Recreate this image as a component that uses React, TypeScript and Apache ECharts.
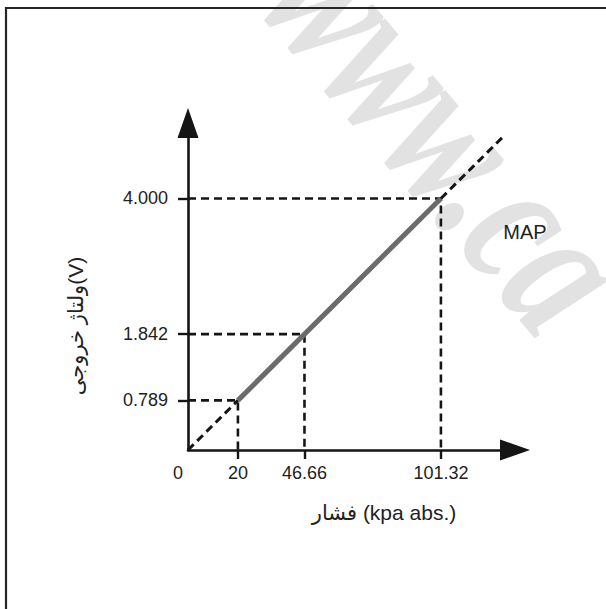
import React, { useEffect, useRef } from "react";
import * as echarts from "echarts";

// Points: pressure (kPa abs.) vs output voltage (V)
const pressureKpa = [20, 46.66, 101.32];
const voltageV = [0.789, 1.842, 4.0];
// dashed extension of the characteristic beyond the last point
const extensionEnd = [126.7, 5.0];
const xTickValues = [0, 20, 46.66, 101.32];
const yTickValues = [0.789, 1.842, 4.0];

const xTitle = "فشار (kpa abs.)";
const yTitle = "ولتاژ خروجی(V)";
const seriesName = "MAP";
const watermark = "www.ca";

const FONT = "'Liberation Sans', Arial, 'DejaVu Sans', sans-serif";
const INK = "#151515";

export default function App() {
  const ref = useRef<HTMLDivElement>(null);
  useEffect(() => {
    if (!ref.current) return;
    const chart = echarts.init(ref.current, undefined, { renderer: "svg" });

    const guideSeries = pressureKpa.map((p, i) => ({
      type: "line",
      silent: true,
      symbol: "none",
      z: 3,
      lineStyle: { color: INK, width: 2.6, type: [8, 5] },
      data: [
        [0, voltageV[i]],
        [p, voltageV[i]],
        [p, 0],
      ],
    }));

    const labelStyle = { color: "#222", fontSize: 18, fontFamily: FONT };

    const option: any = {
      animation: false,
      backgroundColor: "#ffffff",
      textStyle: { fontFamily: FONT },
      grid: { left: 188, top: 123, width: 327, height: 327, containLabel: false },
      xAxis: {
        type: "value",
        min: 0,
        max: 131,
        splitLine: { show: false },
        axisLine: {
          show: true,
          onZero: false,
          lineStyle: { color: INK, width: 2.6 },
          symbol: ["none", "triangle"],
          symbolSize: [21, 30],
        },
        axisTick: {
          show: true,
          customValues: xTickValues.slice(1),
          length: 9,
          lineStyle: { color: INK, width: 2.4 },
        },
        axisLabel: {
          show: true,
          customValues: xTickValues,
          margin: 14,
          ...labelStyle,
          formatter: (v: number) => (v === 0 ? "{o|0}" : String(v)),
          rich: { o: { padding: [0, 20, 0, 0], ...labelStyle } },
        },
      },
      yAxis: {
        type: "value",
        min: 0,
        max: 5.2,
        splitLine: { show: false },
        axisLine: {
          show: true,
          onZero: false,
          lineStyle: { color: INK, width: 2.6 },
          symbol: ["none", "triangle"],
          symbolSize: [21, 30],
        },
        axisTick: {
          show: true,
          customValues: yTickValues,
          length: 10,
          lineStyle: { color: INK, width: 2.4 },
        },
        axisLabel: {
          show: true,
          customValues: yTickValues,
          margin: 20,
          ...labelStyle,
          formatter: (v: number) => v.toFixed(3),
        },
      },
      series: [
        ...guideSeries,
        {
          type: "line",
          silent: true,
          symbol: "none",
          z: 3,
          lineStyle: { color: INK, width: 3, type: [8, 5] },
          data: [
            [0, 0],
            [pressureKpa[0], voltageV[0]],
          ],
        },
        {
          type: "line",
          silent: true,
          symbol: "none",
          z: 3,
          lineStyle: { color: INK, width: 3, type: [8, 5] },
          data: [
            [pressureKpa[2], voltageV[2]],
            extensionEnd,
          ],
        },
        {
          name: seriesName,
          type: "line",
          silent: true,
          symbol: "none",
          z: 4,
          lineStyle: { color: "#6b6b6b", width: 5, cap: "butt" },
          data: [
            [pressureKpa[0], voltageV[0]],
            [pressureKpa[2], voltageV[2]],
          ],
        },
      ],
      graphic: [
        {
          type: "text",
          z: -10,
          silent: true,
          x: 306,
          y: -38,
          rotation: -0.87,
          scaleX: 0.7,
          style: {
            text: watermark,
            fill: "#e2e2e2",
            font: "italic bold 200px 'Liberation Serif', 'DejaVu Serif', serif",
            align: "left",
            verticalAlign: "middle",
          },
        },
        {
          type: "text",
          z: 10,
          silent: true,
          x: 525,
          y: 232,
          style: {
            text: seriesName,
            fill: "#222",
            fontSize: 20,
            fontFamily: FONT,
            align: "center",
            verticalAlign: "middle",
          },
        },
        {
          type: "text",
          z: 10,
          silent: true,
          x: 384,
          y: 512,
          style: {
            text: xTitle,
            fill: "#222",
            fontSize: 21,
            fontFamily: FONT,
            align: "center",
            verticalAlign: "middle",
          },
        },
        {
          type: "text",
          z: 10,
          silent: true,
          x: 75,
          y: 326,
          rotation: Math.PI / 2,
          style: {
            text: yTitle,
            fill: "#222",
            fontSize: 21,
            fontFamily: FONT,
            align: "center",
            verticalAlign: "middle",
          },
        },
        {
          type: "polyline",
          z: 20,
          silent: true,
          shape: { points: [[6, 620], [6, 8], [620, 8]] },
          style: { stroke: "#262626", lineWidth: 2.2, fill: "none" },
        },
      ],
    };
    chart.setOption(option);
    return () => chart.dispose();
  }, []);
  return (
    <div
      ref={ref}
      style={{ position: "fixed", left: 0, top: 0, width: 606, height: 609, background: "#fff" }}
    />
  );
}
